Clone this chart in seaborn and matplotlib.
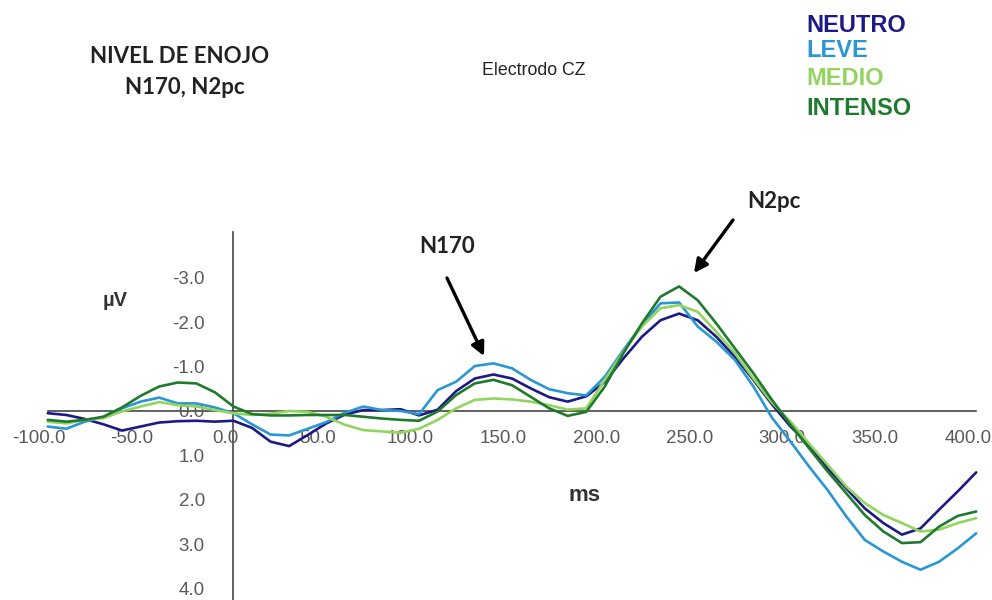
import matplotlib
matplotlib.use("Agg")
import matplotlib.pyplot as plt
import matplotlib.transforms as mtransforms
import seaborn as sns
import pandas as pd

# Time axis (ms) and grand-average ERP amplitudes (µV) at electrode CZ
ms = [-100, -90, -80, -70, -60, -50, -40, -30, -20, -10, 0,
      10, 20, 30, 40, 50, 60, 70, 80, 90, 100,
      110, 120, 130, 140, 150, 160, 170, 180, 190, 200,
      210, 220, 230, 240, 250, 260, 270, 280, 290, 300,
      310, 320, 330, 340, 350, 360, 370, 380, 390, 400]

neutro = [0.05, 0.09, 0.18, 0.30, 0.44, 0.35, 0.26, 0.23, 0.22, 0.24, 0.22,
          0.38, 0.69, 0.79, 0.54, 0.28, 0.08, -0.02, -0.02, -0.04, 0.10,
          -0.03, -0.45, -0.73, -0.82, -0.73, -0.51, -0.31, -0.21, -0.33, -0.65,
          -1.18, -1.67, -2.04, -2.19, -2.04, -1.67, -1.22, -0.70, -0.15, 0.35,
          0.76, 1.29, 1.74, 2.19, 2.52, 2.78, 2.64, 2.22, 1.81, 1.38]

leve = [0.35, 0.40, 0.24, 0.13, -0.06, -0.21, -0.30, -0.17, -0.17, -0.08, 0.05,
        0.30, 0.53, 0.55, 0.40, 0.25, 0.04, -0.10, -0.02, 0.00, 0.07,
        -0.47, -0.66, -1.01, -1.07, -0.96, -0.70, -0.49, -0.40, -0.35, -0.77,
        -1.37, -1.93, -2.42, -2.44, -1.90, -1.56, -1.15, -0.55, 0.15, 0.69,
        1.25, 1.78, 2.37, 2.90, 3.16, 3.39, 3.57, 3.39, 3.09, 2.75]

medio = [0.24, 0.28, 0.20, 0.16, 0.01, -0.10, -0.20, -0.13, -0.10, -0.02, 0.05,
         0.09, 0.06, 0.00, 0.02, 0.13, 0.31, 0.43, 0.46, 0.49, 0.40,
         0.20, -0.06, -0.25, -0.28, -0.26, -0.21, -0.13, -0.03, -0.06, -0.70,
         -1.33, -1.90, -2.31, -2.38, -2.23, -1.78, -1.30, -0.73, -0.19, 0.24,
         0.73, 1.21, 1.70, 2.07, 2.34, 2.52, 2.71, 2.67, 2.52, 2.41]

intenso = [0.20, 0.24, 0.20, 0.13, -0.08, -0.34, -0.55, -0.64, -0.62, -0.42, -0.10,
           0.07, 0.10, 0.10, 0.09, 0.09, 0.09, 0.13, 0.17, 0.20, 0.22,
           0.01, -0.36, -0.62, -0.70, -0.58, -0.32, -0.06, 0.11, 0.02, -0.55,
           -1.30, -1.97, -2.57, -2.80, -2.49, -1.97, -1.41, -0.85, -0.25, 0.31,
           0.84, 1.36, 1.85, 2.34, 2.71, 2.97, 2.95, 2.60, 2.36, 2.26]

conditions = ["NEUTRO", "LEVE", "MEDIO", "INTENSO"]
colors = ["#1d1a85", "#2b96d4", "#93d45f", "#1f7a2e"]

x_ticks = [-100, -50, 0, 50, 100, 150, 200, 250, 300, 350, 400]
y_ticks = [-3, -2, -1, 0, 1, 2, 3, 4]

df = pd.DataFrame({
    "ms": ms * 4,
    "uV": neutro + leve + medio + intenso,
    "cond": [c for c in conditions for _ in ms],
})

sns.set_style("white")
plt.rcParams["font.family"] = ["Liberation Sans", "DejaVu Sans"]
plt.rcParams["axes.unicode_minus"] = False

W, H = 992, 600
fig = plt.figure(figsize=(W / 100, H / 100), dpi=100)
ax = fig.add_axes([0, 0, 1, 1])

sns.lineplot(data=df, x="ms", y="uV", hue="cond", hue_order=conditions,
             palette=colors, linewidth=1.9, legend=False, ax=ax,
             estimator=None, sort=False)
for line in ax.get_lines():
    line.set_solid_joinstyle("round")
    line.set_solid_capstyle("round")

# Data window: negative up, as is usual for ERP plots
ax.set_xlim(-125.7, 408.5)
ax.set_ylim(4.25, -9.24)
ax.set_xlabel("")
ax.set_ylabel("")

# Axes crossing at (0 ms, 0 µV)
axis_col = "#454545"
for side in ("top", "right"):
    ax.spines[side].set_visible(False)
ax.spines["left"].set_position(("data", 0))
ax.spines["bottom"].set_position(("data", 0))
ax.spines["left"].set_bounds(-4.02, 4.4)
ax.spines["bottom"].set_bounds(-100, 400)
for side in ("left", "bottom"):
    ax.spines[side].set_color(axis_col)
    ax.spines[side].set_linewidth(1.2)
    ax.spines[side].set_zorder(0.5)

ax.set_xticks(x_ticks)
ax.set_xticklabels([f"{v:.1f}" for v in x_ticks])
ax.set_yticks(y_ticks)
ax.set_yticklabels([f"{v:.1f}" for v in y_ticks])
ax.tick_params(axis="x", direction="in", length=9, width=1.2, color=axis_col,
               pad=14, labelsize=13.5, labelcolor="#5a5a5a")
ax.tick_params(axis="y", direction="inout", length=21, width=1.2, color=axis_col,
               pad=10, labelsize=13.5, labelcolor="#5a5a5a")

# End ticks of the time axis cross the line
xt = ax.xaxis.get_major_ticks()
for t in (xt[0], xt[-1]):
    t.tick1line.set_marker("|")
    t.tick1line.set_markersize(16)

# Time labels sit slightly left of their ticks
shift = mtransforms.ScaledTranslation(-0.085, 0, fig.dpi_scale_trans)
for t in xt:
    t.label1.set_transform(t.label1.get_transform() + shift)


def fig_pos(px, py):
    return px / W, 1 - py / H


title_font = ["Lato", "DejaVu Sans"]
fig.text(*fig_pos(180, 63), "NIVEL DE ENOJO", ha="center", va="baseline",
         fontsize=16, fontweight="bold", color="#222222", family=title_font)
fig.text(*fig_pos(185, 94), "N170, N2pc", ha="center", va="baseline",
         fontsize=16, fontweight="bold", color="#222222", family=title_font)
fig.text(*fig_pos(534, 75), "Electrodo CZ", ha="center", va="baseline",
         fontsize=12.8, color="#222222")

# Condition legend as coloured words
legend_base = [32, 57, 85, 115]
for name, col, base in zip(conditions, colors, legend_base):
    fig.text(*fig_pos(806, base), name, ha="left", va="baseline",
             fontsize=17, fontweight="bold", color=col)

fig.text(*fig_pos(115, 306), "µV", ha="center", va="baseline",
         fontsize=14.5, fontweight="bold", color="#333333")
fig.text(*fig_pos(584, 501), "ms", ha="center", va="baseline",
         fontsize=16, fontweight="bold", color="#333333")

# Component labels with arrows
arrow = dict(arrowstyle="-|>", color="black", lw=2.4, mutation_scale=20,
             shrinkA=0, shrinkB=0)
fig.text(*fig_pos(447, 253), "N170", ha="center", va="baseline",
         fontsize=16, fontweight="bold", color="#222222", family=title_font)
ax.annotate("", xy=fig_pos(484, 356), xytext=fig_pos(447, 278),
            xycoords="figure fraction", textcoords="figure fraction",
            arrowprops=arrow)
fig.text(*fig_pos(774, 208), "N2pc", ha="center", va="baseline",
         fontsize=16, fontweight="bold", color="#222222", family=title_font)
ax.annotate("", xy=fig_pos(694, 273), xytext=fig_pos(733, 220),
            xycoords="figure fraction", textcoords="figure fraction",
            arrowprops=arrow)

fig.savefig("out.png", dpi=100, facecolor="white")
